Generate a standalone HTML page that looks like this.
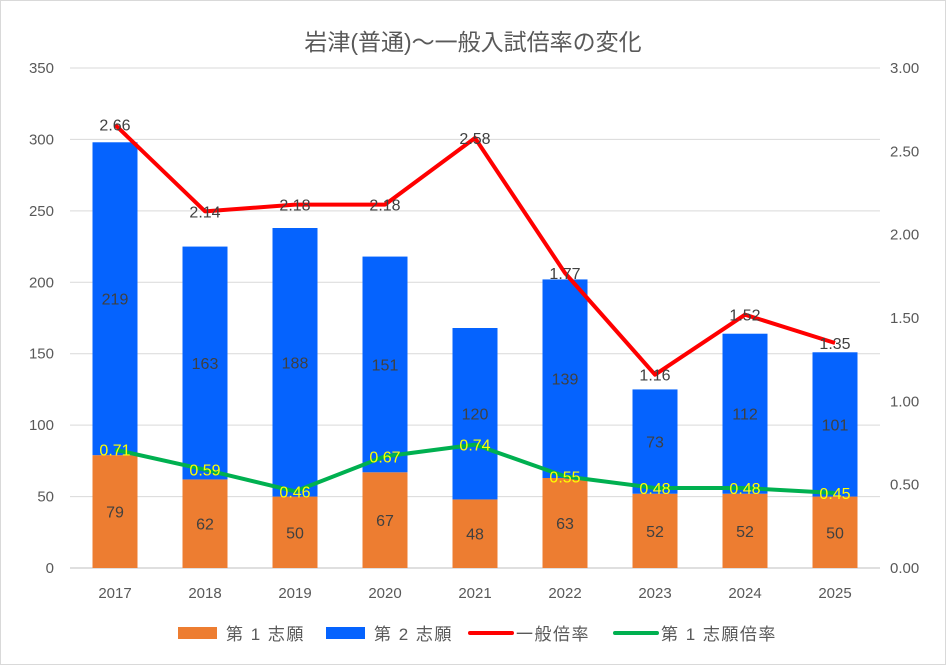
<!DOCTYPE html>
<html><head><meta charset="utf-8"><style>
body{margin:0;background:#fff;font-family:"Liberation Sans","Noto Sans CJK JP",sans-serif}
svg text{font-family:"Liberation Sans","Noto Sans CJK JP",sans-serif}
</style></head><body>
<svg id="c" width="946" height="665" xmlns="http://www.w3.org/2000/svg">
<rect x="0.5" y="0.5" width="945" height="664" fill="#fff" stroke="#d9d9d9"/>
<text x="473" y="50" text-anchor="middle" font-size="23" fill="#595959">岩津(普通)～一般入試倍率の変化</text>
</svg>
<script>
const categories=["2017","2018","2019","2020","2021","2022","2023","2024","2025"];
const first=[79,62,50,67,48,63,52,52,50];
const second=[219,163,188,151,120,139,73,112,101];
const generalRate=[2.66,2.14,2.18,2.18,2.58,1.77,1.16,1.52,1.35];
const firstRate=[0.71,0.59,0.46,0.67,0.74,0.55,0.48,0.48,0.45];
const leftTicks=[0,50,100,150,200,250,300,350];
const rightTicks=["0.00","0.50","1.00","1.50","2.00","2.50","3.00"];
const svg=document.getElementById('c');const NS="http://www.w3.org/2000/svg";
const X0=70,X1=880,Y0=568,Y1=68;
const xC=i=>X0+(X1-X0)/categories.length*(i+0.5);
const yL=v=>Y0-v/350*(Y0-Y1);
const yR=v=>Y0-v/3*(Y0-Y1);
function el(t,a,txt){const e=document.createElementNS(NS,t);for(const k in a)e.setAttribute(k,a[k]);if(txt!==undefined)e.textContent=txt;svg.appendChild(e);return e;}
leftTicks.forEach(v=>{
 const g=el('line',{x1:X0,x2:X1,y1:yL(v),y2:yL(v),stroke:v===0?'#bfbfbf':'#d9d9d9'});
 
 
 const t=el('text',{x:54,y:yL(v)+5,'text-anchor':'end','font-size':15,fill:'#595959'},v);
 
 
});
rightTicks.forEach(v=>{
 const t=el('text',{x:890,y:yR(parseFloat(v))+5,'font-size':15,fill:'#595959'},v);
 
 
});
const bw=45;
categories.forEach((c,i)=>{
 const x=xC(i);
 const b1=el('rect',{x:x-bw/2,y:yL(first[i]),width:bw,height:Y0-yL(first[i]),fill:'#ed7d31'});
 
 
 const b2=el('rect',{x:x-bw/2,y:yL(first[i]+second[i]),width:bw,height:yL(first[i])-yL(first[i]+second[i]),fill:'#0563fe'});
 
 
 const l1=el('text',{x:x,y:yL(first[i]/2)+6,'text-anchor':'middle','font-size':16,fill:'#404040'},first[i]);
 
 
 const l2=el('text',{x:x,y:yL(first[i]+second[i]/2)+6,'text-anchor':'middle','font-size':16,fill:'#404040'},second[i]);
 
 
 const xl=el('text',{x:x,y:598,'text-anchor':'middle','font-size':15,fill:'#595959'},c);
 
 
});
function line(data,color,name,lblColor){
 const p=el('polyline',{points:data.map((v,i)=>xC(i)+','+yR(v)).join(' '),fill:'none',stroke:color,'stroke-width':4,'stroke-linejoin':'round'});
 
 
 data.forEach((v,i)=>{
  const t=el('text',{x:xC(i),y:yR(v)+6,'text-anchor':'middle','font-size':16,fill:lblColor},v.toFixed(2));
  
  
 });
}
line(generalRate,'#ff0000','general-rate-line','#404040');
line(firstRate,'#00b050','first-choice-rate-line','#ffff00');
const leg=[['第 1 志願','#ed7d31','rect',178],['第 2 志願','#0563fe','rect',326],['一般倍率','#ff0000','line',468],['第 1 志願倍率','#00b050','line',613]];
leg.forEach(([n,c,t,x])=>{
 let m;
 if(t==='rect')m=el('rect',{x:x,y:627,width:39,height:12,fill:c});
 else m=el('line',{x1:x+2,x2:x+44,y1:633,y2:633,stroke:c,'stroke-width':4,'stroke-linecap':'round'});
 
 
 const tt=el('text',{x:x+48,y:640,'font-size':17,'letter-spacing':1.5,fill:'#595959'},n);
 
 
});
</script>
</body></html>
